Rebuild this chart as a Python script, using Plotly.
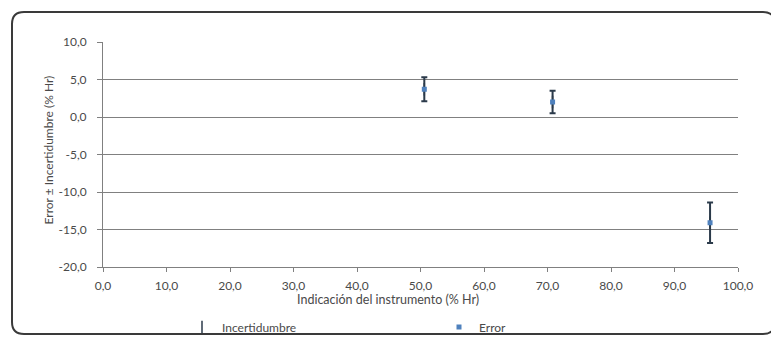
import plotly.graph_objects as go

# --- datos ---
indicacion = [50.6, 70.8, 95.6]      # Indicación del instrumento (% Hr)
error = [3.7, 2.0, -14.1]            # Error (% Hr)
incertidumbre = [1.6, 1.5, 2.7]      # Incertidumbre (% Hr)

x_ticks = [0, 10, 20, 30, 40, 50, 60, 70, 80, 90, 100]
y_ticks = [10, 5, 0, -5, -10, -15, -20]

# la pagina tiene 8 px de margen en el body: se compensa aqui
OFF = 8
W, H = 779 - OFF, 338 - OFF
# area del grafico en pixeles de la pagina
X_IZQ, X_DER, Y_SUP, Y_INF = 103, 738, 42, 267
pw, ph = X_DER - X_IZQ, Y_INF - Y_SUP

def px(x):
    return (x - X_IZQ) / pw

def py(y):
    return (Y_INF - y) / ph

def fmt(v):
    return f"{v:.1f}".replace(".", ",")

FONT = "Lato, Open Sans, sans-serif"
GRIS = "#4a4a4a"

fig = go.Figure()

# incertidumbre como barras de error
fig.add_trace(go.Scatter(
    x=indicacion, y=error, mode="markers", name="Incertidumbre",
    marker=dict(symbol="line-ns-open", size=9, color="#2b3a4a",
                line=dict(width=1.5, color="#2b3a4a")),
    error_y=dict(type="data", array=incertidumbre, visible=True,
                 color="#2b3a4a", thickness=2, width=3),
))

fig.add_trace(go.Scatter(
    x=indicacion, y=error, mode="markers", name="Error",
    marker=dict(symbol="square", size=5, color="#4f81bd"),
))

# marco redondeado del grafico (como en Excel)
x0, x1, y0, y1, r = 12, 775, 12, 334, 12
path = (f"M {px(x0 + r)},{py(y0)} L {px(x1 - r)},{py(y0)} "
        f"Q {px(x1)},{py(y0)} {px(x1)},{py(y0 + r)} "
        f"L {px(x1)},{py(y1 - r)} Q {px(x1)},{py(y1)} {px(x1 - r)},{py(y1)} "
        f"L {px(x0 + r)},{py(y1)} Q {px(x0)},{py(y1)} {px(x0)},{py(y1 - r)} "
        f"L {px(x0)},{py(y0 + r)} Q {px(x0)},{py(y0)} {px(x0 + r)},{py(y0)} Z")
fig.add_shape(type="path", path=path, xref="paper", yref="paper",
              line=dict(color="#3a3a3a", width=2), layer="below")

fig.update_layout(
    width=W, height=H,
    margin=dict(l=X_IZQ - OFF, r=W - (X_DER - OFF), t=Y_SUP - OFF, b=H - (Y_INF - OFF),
                autoexpand=False),
    paper_bgcolor="white", plot_bgcolor="white",
    font=dict(family=FONT, size=12, color=GRIS),
    showlegend=True,
    legend=dict(orientation="h", xref="container", yref="container",
                x=(182 - OFF) / W, y=(H - (327 - OFF)) / H, xanchor="left", yanchor="middle",
                entrywidth=212, entrywidthmode="pixels", itemsizing="trace",
                font=dict(size=12, color=GRIS), bgcolor="rgba(0,0,0,0)"),
    xaxis=dict(range=[0, 100], tickvals=x_ticks, ticktext=[fmt(v) for v in x_ticks],
               showgrid=False, zeroline=False, showline=True, linecolor="#808080",
               ticks="outside", ticklen=4, tickcolor="#808080", ticklabelstandoff=4,
               tickfont=dict(size=12, color=GRIS)),
    yaxis=dict(range=[-20, 10], tickvals=y_ticks, ticktext=[fmt(v) for v in y_ticks],
               showgrid=True, gridcolor="#808080", gridwidth=1, zeroline=False,
               showline=True, linecolor="#808080", ticks="outside", ticklen=5,
               tickcolor="#808080", ticklabelstandoff=8,
               tickfont=dict(size=12, color=GRIS)),
)

fig.add_annotation(text="Indicación del instrumento (% Hr)", xref="paper", yref="paper",
                   x=px(388), y=py(309), showarrow=False, font=dict(size=12.5, color=GRIS))
fig.add_annotation(text="Error ± Incertidumbre (% Hr)", xref="paper", yref="paper",
                   x=px(38), y=py(150), textangle=-90, showarrow=False,
                   font=dict(size=12, color=GRIS))

fig.write_html("out.html")
